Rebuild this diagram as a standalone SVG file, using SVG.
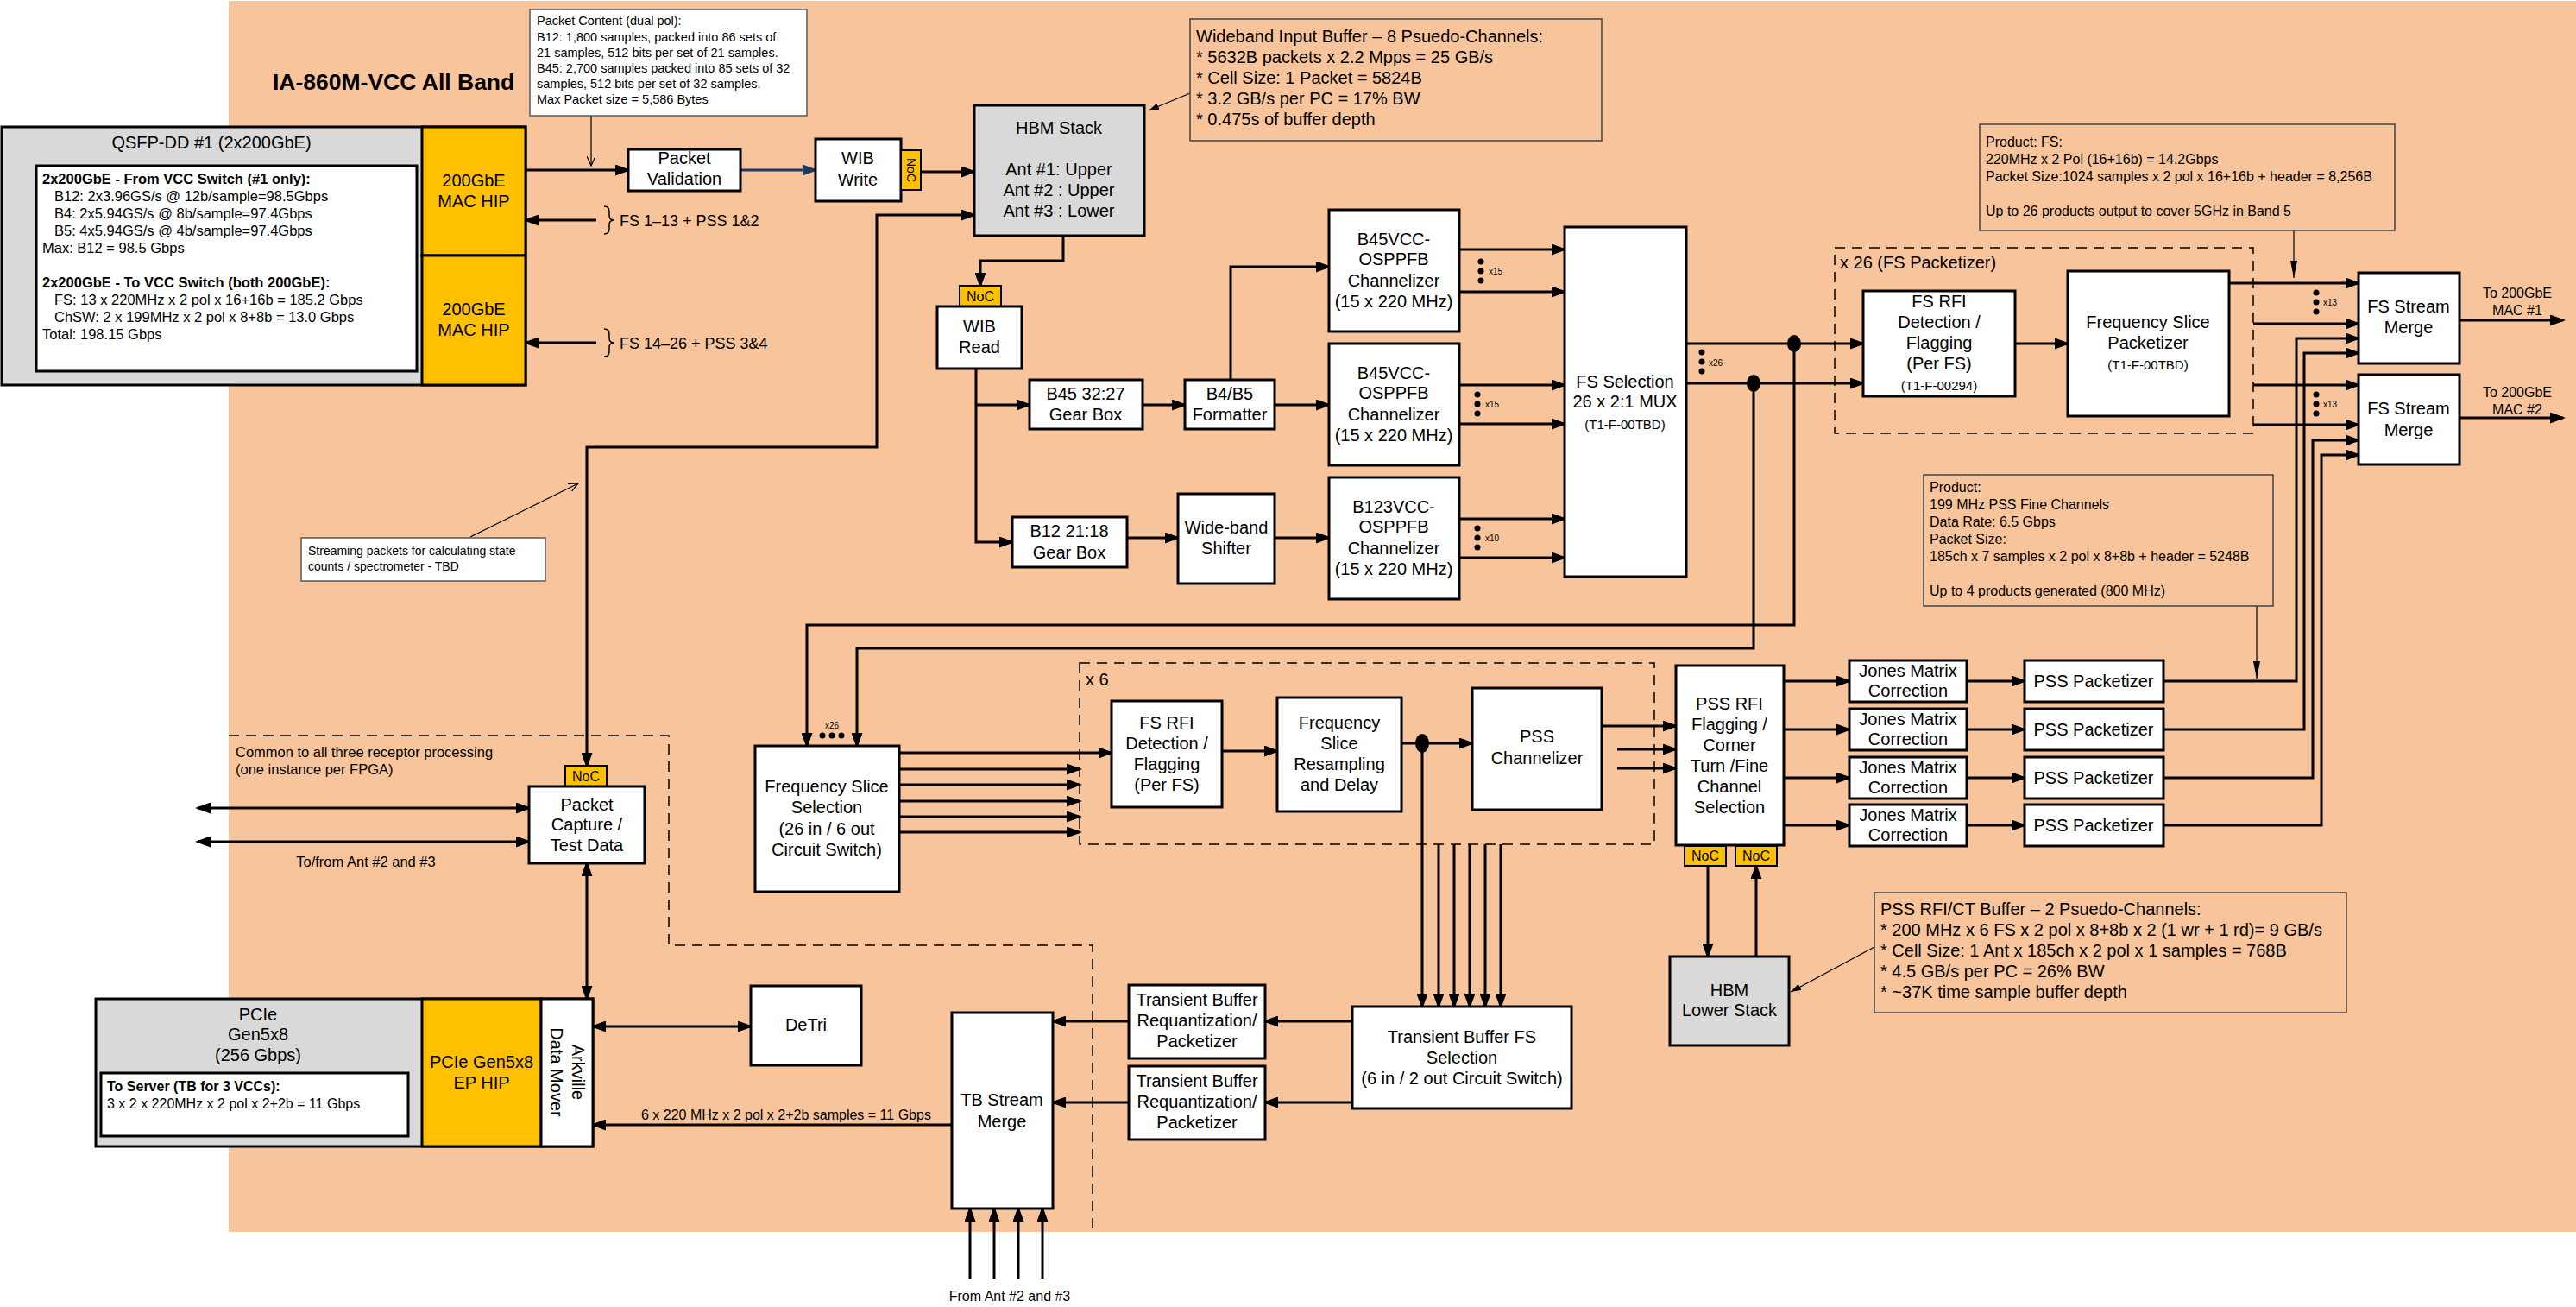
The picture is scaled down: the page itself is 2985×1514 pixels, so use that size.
<svg xmlns="http://www.w3.org/2000/svg" width="2985" height="1514" viewBox="0 0 2985 1514">
<defs>
<style>
.bg{fill:#F8C49B}
.box{fill:#fff;stroke:#000;stroke-width:3}
.gray{fill:#D9D9D9;stroke:#000;stroke-width:3}
.yel{fill:#FFC000;stroke:#000;stroke-width:3}
.noc{fill:#FFC000;stroke:#000;stroke-width:2}
.note{fill:#fff;stroke:#595959;stroke-width:1.5}
.onote{fill:#F8C49B;stroke:#404040;stroke-width:1.5}
.dash{fill:none;stroke:#000;stroke-width:1.5;stroke-dasharray:12 8}
.w{fill:none;stroke:#000;stroke-width:3}
.wa{fill:none;stroke:#000;stroke-width:3;marker-end:url(#ah)}
.wd{fill:none;stroke:#000;stroke-width:3;marker-start:url(#ah);marker-end:url(#ah)}
.th{fill:none;stroke:#000;stroke-width:1.2}
text{font-family:'Liberation Sans',Arial,sans-serif;fill:#000}
.c{font-size:20px;text-anchor:middle}
.c15{font-size:15px;text-anchor:middle}
.s16{font-size:16.5px}
.b16{font-size:16.5px;font-weight:bold}
.n14{font-size:14.5px}
.n16{font-size:16px}
.n20{font-size:20px}
.nc{font-size:16px;text-anchor:middle}
.tiny{font-size:10px}
.dot{fill:#000}
</style>
<marker id="ah" viewBox="0 0 18 13" refX="15" refY="6.5" markerWidth="18" markerHeight="13" markerUnits="userSpaceOnUse" orient="auto-start-reverse"><path d="M0,0 L18,6.5 L0,13 z" fill="#000"/></marker>
<marker id="ahn" viewBox="0 0 18 13" refX="15" refY="6.5" markerWidth="18" markerHeight="13" markerUnits="userSpaceOnUse" orient="auto"><path d="M0,0 L18,6.5 L0,13 z" fill="#1F3864"/></marker>
<marker id="ta" viewBox="0 0 12 8" refX="12" refY="4" markerWidth="12" markerHeight="8" markerUnits="userSpaceOnUse" orient="auto"><path d="M0,0 L12,4 L0,8 z" fill="#000"/></marker>
<marker id="tl" viewBox="0 0 20 8" refX="20" refY="4" markerWidth="20" markerHeight="8" markerUnits="userSpaceOnUse" orient="auto"><path d="M0,0 L20,4 L0,8 z" fill="#000"/></marker>
<marker id="oa" viewBox="0 0 12 10" refX="11" refY="5" markerWidth="12" markerHeight="10" markerUnits="userSpaceOnUse" orient="auto"><path d="M0,0 L11,5 L0,10" fill="none" stroke="#000" stroke-width="1.2"/></marker>
</defs>

<rect class="bg" x="265" y="1" width="2720" height="1426"/>
<text x="316" y="104" style="font-size:26.5px;font-weight:bold">IA-860M-VCC All Band</text>

<!-- common region boundary -->
<path class="dash" d="M265,852 H775 V1095 H1266 V1428"/>
<text class="s16" x="273" y="877">Common to all three receptor processing</text>
<text class="s16" x="273" y="897">(one instance per FPGA)</text>

<!-- dashed groups -->
<rect class="dash" x="2126" y="287" width="485" height="215"/>
<text class="n20" x="2132" y="311">x 26 (FS Packetizer)</text>
<rect class="dash" x="1251" y="768" width="666" height="210"/>
<text class="n20" x="1258" y="794">x 6</text>

<!-- connectors -->
<g id="connectors">
<path class="wa" d="M609,197 H728"/>
<path d="M858,197 H945" fill="none" stroke="#1F3864" stroke-width="3" marker-end="url(#ahn)"/>
<path class="wa" d="M1067,199 H1129"/>
<path class="wd" d="M1129,249 H1016 V518 H680 V887"/>
<path class="wa" d="M691,255 H609"/>
<path class="wa" d="M691,397 H609"/>
<path class="w" style="stroke-width:1.5" d="M700,239 Q706,239 706,245 L706,250 Q706,255 712,255 Q706,255 706,260 L706,265 Q706,271 700,271"/>
<path class="w" style="stroke-width:1.5" d="M700,381 Q706,381 706,387 L706,392 Q706,397 712,397 Q706,397 706,402 L706,407 Q706,413 700,413"/>
<path class="wa" d="M1232,273 V302 H1136 V331"/>
<path class="wa" d="M1131,427 V628 H1173"/>
<path class="wa" d="M1131,469 H1193"/>
<path class="wa" d="M1324,469 H1373"/>
<path class="wa" d="M1426,440 V309 H1540"/>
<path class="wa" d="M1477,469 H1540"/>
<path class="wa" d="M1306,623 H1365"/>
<path class="wa" d="M1477,623 H1540"/>
<path class="wa" d="M1691,289 H1813"/>
<path class="wa" d="M1691,338 H1813"/>
<path class="wa" d="M1691,446 H1813"/>
<path class="wa" d="M1691,491 H1813"/>
<path class="wa" d="M1691,601 H1813"/>
<path class="wa" d="M1691,646 H1813"/>
<path class="wa" d="M1954,398 H2159"/>
<path class="wa" d="M1954,444 H2159"/>
<path class="wa" d="M2079,398 V724 H935 V864"/>
<path class="wa" d="M2032,444 V751 H993 V864"/>
<path class="wa" d="M2335,398 H2396"/>
<path class="wa" d="M2583,328 H2733"/>
<path class="wa" d="M2611,375 H2733"/>
<path class="wa" d="M2611,446 H2733"/>
<path class="wa" d="M2611,492 H2733"/>
<path class="wa" d="M2507,789 H2661 V392 H2733"/>
<path class="wa" d="M2507,845 H2670 V409 H2733"/>
<path class="wa" d="M2507,901 H2680 V510 H2733"/>
<path class="wa" d="M2507,956 H2690 V527 H2733"/>
<path class="wa" d="M2850,371 H2970"/>
<path class="wa" d="M2850,484 H2970"/>
<path class="wa" d="M2067,789 H2143"/>
<path class="wa" d="M2067,845 H2143"/>
<path class="wa" d="M2067,901 H2143"/>
<path class="wa" d="M2067,956 H2143"/>
<path class="wa" d="M2279,789 H2346"/>
<path class="wa" d="M2279,845 H2346"/>
<path class="wa" d="M2279,901 H2346"/>
<path class="wa" d="M2279,956 H2346"/>
<path class="wa" d="M1979,1003 V1108"/>
<path class="wa" d="M2035,1108 V1003"/>
<path class="wa" d="M1042,872 H1288"/>
<path class="wa" d="M1042,891 H1251"/>
<path class="wa" d="M1042,909 H1251"/>
<path class="wa" d="M1042,928 H1251"/>
<path class="wa" d="M1042,946 H1251"/>
<path class="wa" d="M1042,964 H1251"/>
<path class="wa" d="M1416,870 H1480"/>
<path class="wa" d="M1624,861 H1706"/>
<path class="wa" d="M1856,841 H1942"/>
<path class="wa" d="M1874,868 H1942"/>
<path class="wa" d="M1874,890 H1942"/>
<path class="wa" d="M1648,861 V1166"/>
<path class="wa" d="M1667,978 V1166"/>
<path class="wa" d="M1685,978 V1166"/>
<path class="wa" d="M1703,978 V1166"/>
<path class="wa" d="M1721,978 V1166"/>
<path class="wa" d="M1739,978 V1166"/>
<path class="wa" d="M1567,1183 H1466"/>
<path class="wa" d="M1567,1277 H1466"/>
<path class="wa" d="M1308,1183 H1220"/>
<path class="wa" d="M1308,1277 H1220"/>
<path class="wa" d="M1124,1481 V1400"/>
<path class="wa" d="M1152,1481 V1400"/>
<path class="wa" d="M1180,1481 V1400"/>
<path class="wa" d="M1208,1481 V1400"/>
<path class="wa" d="M1103,1303 H687"/>
<path class="wd" d="M687,1189 H870"/>
<path class="wd" d="M229,936 H613"/>
<path class="wd" d="M229,975 H613"/>
<path class="wd" d="M680,1000 V1157"/>
<!-- note pointers -->
<path class="th" d="M685,134 V192" marker-end="url(#oa)"/>
<path class="th" d="M1379,108 L1331,128" marker-end="url(#ta)"/>
<path class="th" d="M2658,267 V322" marker-end="url(#tl)"/>
<path class="th" d="M2615,702 V786" marker-end="url(#tl)"/>
<path class="th" d="M2172,1097 L2075,1149" marker-end="url(#ta)"/>
<path class="th" d="M545,622 L670,560" marker-end="url(#oa)"/>
<!-- junctions and dots -->
<ellipse class="dot" cx="2079" cy="398" rx="8" ry="10"/>
<ellipse class="dot" cx="2032" cy="444" rx="8" ry="10"/>
<ellipse class="dot" cx="1648" cy="861" rx="8" ry="11"/>
</g>
<g id="labels">
<text class="n16" x="718" y="262" style="font-size:18px">FS 1–13 + PSS 1&amp;2</text>
<text class="n16" x="718" y="404" style="font-size:18px">FS 14–26 + PSS 3&amp;4</text>
<text class="nc" x="2917" y="345">To 200GbE</text>
<text class="nc" x="2917" y="365">MAC #1</text>
<text class="nc" x="2917" y="460">To 200GbE</text>
<text class="nc" x="2917" y="480">MAC #2</text>
<text class="s16" x="424" y="1004" text-anchor="middle">To/from Ant #2 and #3</text>
<text class="nc" x="1170" y="1507">From Ant #2 and #3</text>
<text class="n16" x="743" y="1297">6 x 220 MHz x 2 pol x 2+2b samples =  11 Gbps</text>
<g class="dot">
<circle cx="1716" cy="303" r="3.5"/><circle cx="1716" cy="314" r="3.5"/><circle cx="1716" cy="325" r="3.5"/>
<circle cx="1712" cy="457" r="3.5"/><circle cx="1712" cy="468" r="3.5"/><circle cx="1712" cy="479" r="3.5"/>
<circle cx="1712" cy="612" r="3.5"/><circle cx="1712" cy="623" r="3.5"/><circle cx="1712" cy="634" r="3.5"/>
<circle cx="1972" cy="408" r="3.5"/><circle cx="1972" cy="419" r="3.5"/><circle cx="1972" cy="430" r="3.5"/>
<circle cx="2684" cy="339" r="3.5"/><circle cx="2684" cy="350" r="3.5"/><circle cx="2684" cy="361" r="3.5"/>
<circle cx="2684" cy="457" r="3.5"/><circle cx="2684" cy="468" r="3.5"/><circle cx="2684" cy="479" r="3.5"/>
<circle cx="953" cy="852" r="3.5"/><circle cx="964" cy="852" r="3.5"/><circle cx="975" cy="852" r="3.5"/>
</g>
<text class="tiny" x="1725" y="318">x15</text>
<text class="tiny" x="1721" y="472">x15</text>
<text class="tiny" x="1721" y="627">x10</text>
<text class="tiny" x="1980" y="424">x26</text>
<text class="tiny" x="2692" y="354">x13</text>
<text class="tiny" x="2692" y="472">x13</text>
<text class="tiny" x="964" y="844" text-anchor="middle">x26</text>
</g>

<!-- notes -->
<g id="note-packet">
<rect class="note" x="614" y="11" width="321" height="123"/>
<text class="n14" x="622" y="29">Packet Content (dual pol):</text>
<text class="n14" x="622" y="48">B12: 1,800 samples, packed into 86 sets of</text>
<text class="n14" x="622" y="66">21 samples, 512 bits per set of 21 samples.</text>
<text class="n14" x="622" y="84">B45: 2,700 samples packed into 85 sets of 32</text>
<text class="n14" x="622" y="102">samples, 512 bits per set of 32 samples.</text>
<text class="n14" x="622" y="120">Max Packet size = 5,586 Bytes</text>
</g>
<g id="note-wib">
<rect class="onote" x="1379" y="22" width="477" height="141"/>
<text class="n20" x="1386" y="49">Wideband Input Buffer – 8 Psuedo-Channels:</text>
<text class="n20" x="1386" y="73">* 5632B packets x 2.2 Mpps = 25 GB/s</text>
<text class="n20" x="1386" y="97">* Cell Size: 1 Packet = 5824B</text>
<text class="n20" x="1386" y="121">* 3.2 GB/s per PC = 17% BW</text>
<text class="n20" x="1386" y="145">* 0.475s of buffer depth</text>
</g>
<g id="note-fs">
<rect class="onote" x="2294" y="144" width="481" height="123"/>
<text class="n16" x="2301" y="170">Product: FS:</text>
<text class="n16" x="2301" y="190">220MHz x 2 Pol (16+16b) = 14.2Gbps</text>
<text class="n16" x="2301" y="210">Packet Size:1024 samples x 2 pol x 16+16b + header = 8,256B</text>
<text class="n16" x="2301" y="250">Up to 26 products output to cover 5GHz in Band 5</text>
</g>
<g id="note-pss">
<rect class="onote" x="2229" y="550" width="405" height="152"/>
<text class="n16" x="2236" y="570">Product:</text>
<text class="n16" x="2236" y="590">199 MHz PSS Fine Channels</text>
<text class="n16" x="2236" y="610">Data Rate: 6.5 Gbps</text>
<text class="n16" x="2236" y="630">Packet Size:</text>
<text class="n16" x="2236" y="650">185ch x 7 samples x 2 pol x 8+8b + header = 5248B</text>
<text class="n16" x="2236" y="690">Up to 4 products generated (800 MHz)</text>
</g>
<g id="note-ct">
<rect class="onote" x="2172" y="1034" width="547" height="139"/>
<text class="n20" x="2179" y="1060">PSS RFI/CT Buffer – 2 Psuedo-Channels:</text>
<text class="n20" x="2179" y="1084">* 200 MHz x 6 FS x 2 pol x 8+8b x 2 (1 wr + 1 rd)= 9 GB/s</text>
<text class="n20" x="2179" y="1108">* Cell Size: 1 Ant x 185ch x 2 pol x 1 samples = 768B</text>
<text class="n20" x="2179" y="1132">* 4.5 GB/s per PC = 26% BW</text>
<text class="n20" x="2179" y="1156">* ~37K time sample buffer depth</text>
</g>
<g id="note-stream">
<rect class="note" x="349" y="623" width="283" height="50"/>
<text class="n14" x="357" y="643" style="font-size:14px">Streaming packets for calculating state</text>
<text class="n14" x="357" y="661" style="font-size:14px">counts / spectrometer - TBD</text>
</g>

<!-- nodes -->
<g id="qsfp">
<rect class="gray" x="2" y="147" width="607" height="299"/>
<text class="c" x="245" y="172">QSFP-DD #1 (2x200GbE)</text>
<rect class="box" x="42" y="192" width="441" height="238"/>
<text class="b16" x="49" y="213">2x200GbE - From VCC Switch (#1 only):</text>
<text class="s16" x="63" y="233">B12: 2x3.96GS/s @ 12b/sample=98.5Gbps</text>
<text class="s16" x="63" y="253">B4: 2x5.94GS/s @ 8b/sample=97.4Gbps</text>
<text class="s16" x="63" y="273">B5: 4x5.94GS/s @ 4b/sample=97.4Gbps</text>
<text class="s16" x="49" y="293">Max: B12 = 98.5 Gbps</text>
<text class="b16" x="49" y="333">2x200GbE - To VCC Switch (both 200GbE):</text>
<text class="s16" x="63" y="353">FS: 13 x 220MHz x 2 pol x 16+16b = 185.2 Gbps</text>
<text class="s16" x="63" y="373">ChSW: 2 x 199MHz x 2 pol x 8+8b =  13.0 Gbps</text>
<text class="s16" x="49" y="393">Total: 198.15 Gbps</text>
</g>
<g id="mac1"><rect class="yel" x="489" y="147" width="120" height="149"/>
<text class="c" x="549" y="216">200GbE</text><text class="c" x="549" y="240">MAC HIP</text></g>
<g id="mac2"><rect class="yel" x="489" y="296" width="120" height="150"/>
<text class="c" x="549" y="365">200GbE</text><text class="c" x="549" y="389">MAC HIP</text></g>

<g id="pktval"><rect class="box" x="728" y="173" width="130" height="48"/>
<text class="c" x="793" y="190">Packet</text><text class="c" x="793" y="214">Validation</text></g>
<g id="wibwrite"><rect class="box" x="945" y="161" width="99" height="72"/>
<text class="c" x="994" y="190">WIB</text><text class="c" x="994" y="215">Write</text>
<rect class="noc" x="1044" y="174" width="23" height="46"/>
<text style="font-size:14px" text-anchor="middle" transform="translate(1055.5,197) rotate(90)" y="5">NoC</text></g>
<g id="hbm"><rect class="gray" x="1129" y="122" width="197" height="151"/>
<text class="c" x="1227" y="155">HBM Stack</text>
<text class="c" x="1227" y="203">Ant #1: Upper</text>
<text class="c" x="1227" y="227">Ant #2 : Upper</text>
<text class="c" x="1227" y="251">Ant #3 : Lower</text></g>
<g id="wibread"><rect class="noc" x="1112" y="331" width="48" height="24"/>
<text class="nc" x="1136" y="349">NoC</text>
<rect class="box" x="1086" y="355" width="98" height="72"/>
<text class="c" x="1135" y="385">WIB</text><text class="c" x="1135" y="409">Read</text></g>
<g id="gb45"><rect class="box" x="1193" y="440" width="131" height="57"/>
<text class="c" x="1258" y="463">B45 32:27</text><text class="c" x="1258" y="487">Gear Box</text></g>
<g id="fmt"><rect class="box" x="1373" y="440" width="104" height="57"/>
<text class="c" x="1425" y="463">B4/B5</text><text class="c" x="1425" y="487">Formatter</text></g>
<g id="gb12"><rect class="box" x="1173" y="599" width="133" height="58"/>
<text class="c" x="1239" y="622">B12 21:18</text><text class="c" x="1239" y="647">Gear Box</text></g>
<g id="wbs"><rect class="box" x="1365" y="572" width="112" height="104"/>
<text class="c" x="1421" y="618">Wide-band</text><text class="c" x="1421" y="642">Shifter</text></g>
<g id="ch1"><rect class="box" x="1540" y="243" width="151" height="141"/>
<text class="c" x="1615" y="284">B45VCC-</text><text class="c" x="1615" y="307">OSPPFB</text>
<text class="c" x="1615" y="332">Channelizer</text><text class="c" x="1615" y="356">(15 x 220 MHz)</text></g>
<g id="ch2"><rect class="box" x="1540" y="398" width="151" height="141"/>
<text class="c" x="1615" y="439">B45VCC-</text><text class="c" x="1615" y="462">OSPPFB</text>
<text class="c" x="1615" y="487">Channelizer</text><text class="c" x="1615" y="511">(15 x 220 MHz)</text></g>
<g id="ch3"><rect class="box" x="1540" y="553" width="151" height="141"/>
<text class="c" x="1615" y="594">B123VCC-</text><text class="c" x="1615" y="617">OSPPFB</text>
<text class="c" x="1615" y="642">Channelizer</text><text class="c" x="1615" y="666">(15 x 220 MHz)</text></g>
<g id="fssel"><rect class="box" x="1813" y="263" width="141" height="405"/>
<text class="c" x="1883" y="449">FS Selection</text><text class="c" x="1883" y="472">26 x 2:1 MUX</text>
<text class="c15" x="1883" y="497">(T1-F-00TBD)</text></g>
<g id="fsrfi"><rect class="box" x="2159" y="337" width="176" height="122"/>
<text class="c" x="2247" y="356">FS RFI</text><text class="c" x="2247" y="380">Detection /</text>
<text class="c" x="2247" y="404">Flagging</text><text class="c" x="2247" y="428">(Per FS)</text>
<text class="c15" x="2247" y="452">(T1-F-00294)</text></g>
<g id="fspkt"><rect class="box" x="2396" y="314" width="187" height="168"/>
<text class="c" x="2489" y="380">Frequency Slice</text><text class="c" x="2489" y="404">Packetizer</text>
<text class="c15" x="2489" y="428">(T1-F-00TBD)</text></g>
<g id="merge1"><rect class="box" x="2733" y="316" width="117" height="105"/>
<text class="c" x="2791" y="362">FS Stream</text><text class="c" x="2791" y="386">Merge</text></g>
<g id="merge2"><rect class="box" x="2733" y="434" width="117" height="104"/>
<text class="c" x="2791" y="480">FS Stream</text><text class="c" x="2791" y="505">Merge</text></g>

<g id="jones1"><rect class="box" x="2143" y="765" width="136" height="48"/>
<text class="c" x="2211" y="784">Jones Matrix</text><text class="c" x="2211" y="807">Correction</text></g>
<g id="jones2"><rect class="box" x="2143" y="821" width="136" height="48"/>
<text class="c" x="2211" y="840">Jones Matrix</text><text class="c" x="2211" y="863">Correction</text></g>
<g id="jones3"><rect class="box" x="2143" y="877" width="136" height="48"/>
<text class="c" x="2211" y="896">Jones Matrix</text><text class="c" x="2211" y="919">Correction</text></g>
<g id="jones4"><rect class="box" x="2143" y="932" width="136" height="48"/>
<text class="c" x="2211" y="951">Jones Matrix</text><text class="c" x="2211" y="974">Correction</text></g>
<g id="psspkt1"><rect class="box" x="2346" y="765" width="161" height="48"/><text class="c" x="2426" y="796">PSS Packetizer</text></g>
<g id="psspkt2"><rect class="box" x="2346" y="821" width="161" height="48"/><text class="c" x="2426" y="852">PSS Packetizer</text></g>
<g id="psspkt3"><rect class="box" x="2346" y="877" width="161" height="48"/><text class="c" x="2426" y="908">PSS Packetizer</text></g>
<g id="psspkt4"><rect class="box" x="2346" y="932" width="161" height="48"/><text class="c" x="2426" y="963">PSS Packetizer</text></g>

<g id="pssrfi"><rect class="box" x="1942" y="771" width="125" height="208"/>
<text class="c" x="2004" y="822">PSS RFI</text><text class="c" x="2004" y="846">Flagging /</text>
<text class="c" x="2004" y="870">Corner</text><text class="c" x="2004" y="894">Turn /Fine</text>
<text class="c" x="2004" y="918">Channel</text><text class="c" x="2004" y="942">Selection</text>
<rect class="noc" x="1952" y="980" width="48" height="23"/><text class="nc" x="1976" y="997">NoC</text>
<rect class="noc" x="2011" y="980" width="48" height="23"/><text class="nc" x="2035" y="997">NoC</text></g>
<g id="hbmlow"><rect class="gray" x="1935" y="1108" width="138" height="103"/>
<text class="c" x="2004" y="1154">HBM</text><text class="c" x="2004" y="1177">Lower Stack</text></g>

<g id="fsselect"><rect class="box" x="875" y="864" width="167" height="169"/>
<text class="c" x="958" y="918">Frequency Slice</text><text class="c" x="958" y="942">Selection</text>
<text class="c" x="958" y="967">(26 in / 6 out</text><text class="c" x="958" y="991">Circuit Switch)</text></g>
<g id="fsrfi2"><rect class="box" x="1288" y="812" width="128" height="123"/>
<text class="c" x="1352" y="844">FS RFI</text><text class="c" x="1352" y="868">Detection /</text>
<text class="c" x="1352" y="892">Flagging</text><text class="c" x="1352" y="916">(Per FS)</text></g>
<g id="resamp"><rect class="box" x="1480" y="808" width="144" height="132"/>
<text class="c" x="1552" y="844">Frequency</text><text class="c" x="1552" y="868">Slice</text>
<text class="c" x="1552" y="892">Resampling</text><text class="c" x="1552" y="916">and Delay</text></g>
<g id="psschan"><rect class="box" x="1706" y="797" width="150" height="141"/>
<text class="c" x="1781" y="860">PSS</text><text class="c" x="1781" y="885">Channelizer</text></g>

<g id="tbsel"><rect class="box" x="1567" y="1166" width="254" height="118"/>
<text class="c" x="1694" y="1208">Transient Buffer FS</text><text class="c" x="1694" y="1232">Selection</text>
<text class="c" x="1694" y="1256">(6 in / 2 out Circuit Switch)</text></g>
<g id="tbreq1"><rect class="box" x="1308" y="1141" width="158" height="85"/>
<text class="c" x="1387" y="1165">Transient Buffer</text><text class="c" x="1387" y="1189">Requantization/</text><text class="c" x="1387" y="1213">Packetizer</text></g>
<g id="tbreq2"><rect class="box" x="1308" y="1235" width="158" height="85"/>
<text class="c" x="1387" y="1259">Transient Buffer</text><text class="c" x="1387" y="1283">Requantization/</text><text class="c" x="1387" y="1307">Packetizer</text></g>
<g id="tbmerge"><rect class="box" x="1103" y="1173" width="117" height="227"/>
<text class="c" x="1161" y="1281">TB Stream</text><text class="c" x="1161" y="1306">Merge</text></g>
<g id="detri"><rect class="box" x="870" y="1142" width="128" height="92"/>
<text class="c" x="934" y="1194">DeTri</text></g>

<g id="pktcap"><rect class="noc" x="655" y="887" width="48" height="24"/><text class="nc" x="679" y="905">NoC</text>
<rect class="box" x="613" y="911" width="134" height="89"/>
<text class="c" x="680" y="939">Packet</text><text class="c" x="680" y="962">Capture /</text><text class="c" x="680" y="986">Test Data</text></g>

<g id="pcie">
<rect class="gray" x="111" y="1157" width="576" height="171"/>
<text class="c" x="299" y="1182">PCIe</text><text class="c" x="299" y="1205">Gen5x8</text><text class="c" x="299" y="1229">(256 Gbps)</text>
<rect class="box" x="117" y="1243" width="356" height="73"/>
<text class="b16" x="124" y="1264" style="font-size:16px">To Server (TB for 3 VCCs):</text>
<text class="n16" x="124" y="1284">3 x 2 x 220MHz x 2 pol x 2+2b = 11 Gbps</text>
<rect class="yel" x="489" y="1157" width="138" height="171"/>
<text class="c" x="558" y="1237">PCIe Gen5x8</text><text class="c" x="558" y="1261">EP HIP</text>
<rect class="box" x="627" y="1157" width="60" height="171"/>
<g transform="translate(657,1242) rotate(90)"><text class="c" x="0" y="-6">Arkville</text><text class="c" x="0" y="19">Data Mover</text></g>
</g>
</svg>
